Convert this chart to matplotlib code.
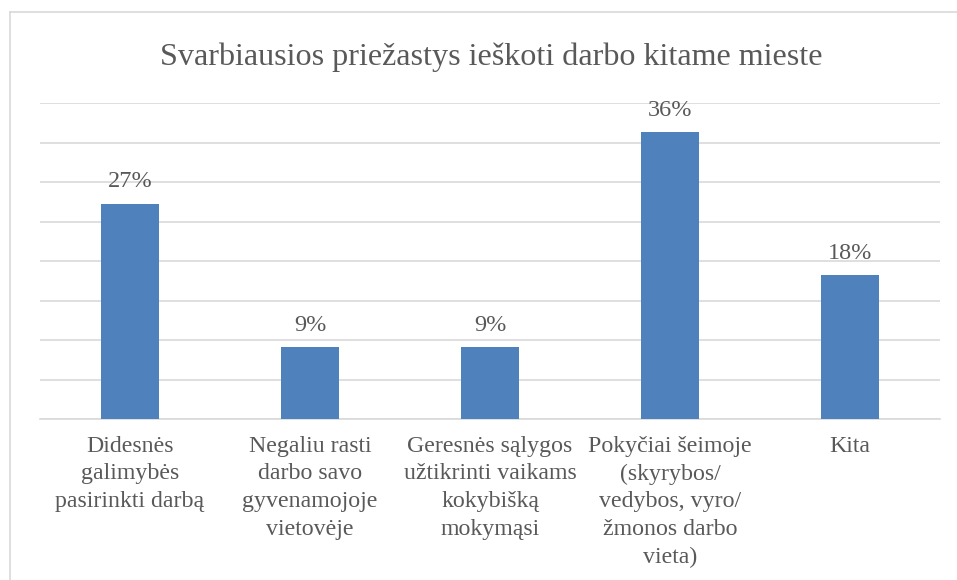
import matplotlib.pyplot as plt
from matplotlib.lines import Line2D

categories = [
    'Didesnės\ngalimybės\npasirinkti darbą',
    'Negaliu rasti\ndarbo savo\ngyvenamojoje\nvietovėje',
    'Geresnės sąlygos\nužtikrinti vaikams\nkokybišką\nmokymąsi',
    'Pokyčiai šeimoje\n(skyrybos/\nvedybos, vyro/\nžmonos darbo\nvieta)',
    'Kita',
]
# shares in percent (3, 1, 1, 4 and 2 answers out of 11)
values = [27.27, 9.09, 9.09, 36.36, 18.18]
value_labels = ['27%', '9%', '9%', '36%', '18%']

text_color = '#595959'
plt.rcParams['font.family'] = ['Liberation Serif', 'DejaVu Serif']

fig = plt.figure(figsize=(9.57, 5.8), dpi=100)
ax = fig.add_axes([40 / 957, 161 / 580, 900 / 957, 316 / 580])

x = range(len(categories))
ax.bar(x, values, width=0.32, color='#4F81BD', zorder=3)
ax.set_xlim(-0.5, len(categories) - 0.5)
ax.set_ylim(0, 40)
ax.set_yticks(range(0, 41, 5))
ax.yaxis.grid(True, color='#D9D9D9', linewidth=1.2, zorder=0)
ax.tick_params(axis='y', left=False, labelleft=False)
ax.tick_params(axis='x', length=0, pad=12)
ax.set_xticks(list(x))
ax.set_xticklabels(categories, fontsize=17.2, color=text_color, linespacing=1.42)
for s in ['top', 'right', 'left']:
    ax.spines[s].set_visible(False)
ax.spines['bottom'].set_color('#D9D9D9')
ax.spines['bottom'].set_linewidth(1.2)

for xi, v, lab in zip(x, values, value_labels):
    ax.annotate(lab, (xi, v), xytext=(0, 8), textcoords='offset points',
                ha='center', va='bottom', fontsize=17.5, color=text_color)

fig.text(491 / 957, 1 - 57 / 580, 'Svarbiausios priežastys ieškoti darbo kitame mieste',
         ha='center', va='center', fontsize=23.1, color=text_color)

# chart frame
fig.add_artist(Line2D([10 / 957, 10 / 957], [0, 1 - 12 / 580], transform=fig.transFigure,
                      color='#D9D9D9', linewidth=1.2))
fig.add_artist(Line2D([10 / 957, 1], [1 - 12 / 580, 1 - 12 / 580], transform=fig.transFigure,
                      color='#D9D9D9', linewidth=1.2))

fig.savefig('out.png', dpi=100)
